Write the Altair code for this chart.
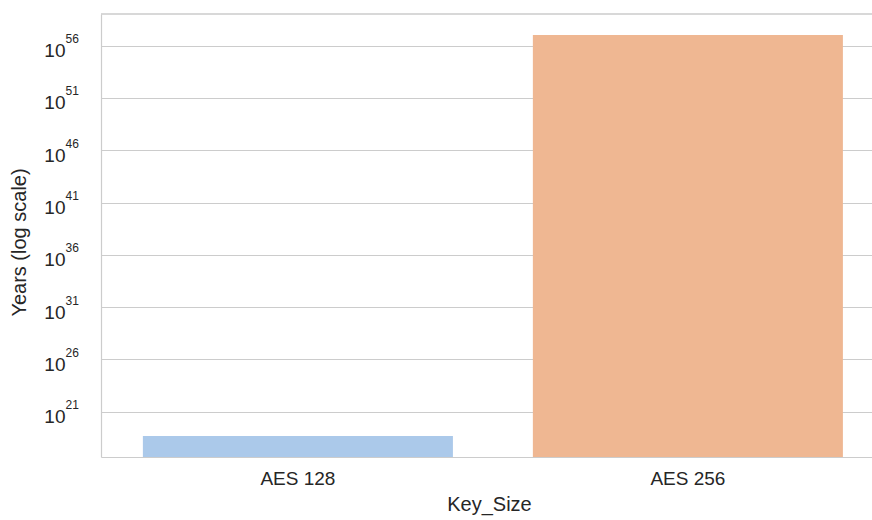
import altair as alt
import pandas as pd

# Data
key_sizes = ["AES 128", "AES 256"]
years = [4.6e18, 1.05e57]
bar_colors = ["#abc9ea", "#efb792"]

tick_exponents = [21, 26, 31, 36, 41, 46, 51, 56]
tick_values = [10.0 ** e for e in tick_exponents]
tick_base = "10"

y_domain = [10 ** 16.654, 10 ** 59.035]

df = pd.DataFrame({"Key_Size": key_sizes, "Years": years})

exp_expr = ""
for e in tick_exponents:
    exp_expr += f"round(log(datum.value)/LN10) == {e} ? '{e}' : "
exp_expr += "''"

TEXT = "#262626"
GRID = "#cccccc"
FONT = "Liberation Sans"

y_scale = alt.Scale(type="log", domain=y_domain, nice=False, zero=False, clamp=True)

bars = alt.Chart(df).mark_bar().encode(
    x=alt.X(
        "Key_Size:N",
        sort=key_sizes,
        scale=alt.Scale(paddingInner=0.205, paddingOuter=0.091, align=0.59),
        axis=alt.Axis(
            title="Key_Size",
            labelAngle=0,
            ticks=False,
            tickSize=0,
            labelPadding=27,
            labelBaseline="alphabetic",
            labelFontSize=19,
            labelColor=TEXT,
            labelFont=FONT,
            titleFontSize=20,
            titleFont=FONT,
            titleColor=TEXT,
            titleFontWeight="normal",
            titleX=388,
            titleY=53.5,
            titleBaseline="alphabetic",
            titleAnchor="start",
            titleAlign="center",
            domainColor=GRID,
            domainWidth=1.2,
            grid=False,
        ),
    ),
    y=alt.Y(
        "Years:Q",
        scale=y_scale,
        axis=alt.Axis(
            orient="left",
            title="Years (log scale)",
            values=tick_values,
            labelExpr=f"'{tick_base}'",
            ticks=False,
            tickSize=0,
            labelPadding=36,
            labelAlign="right",
            labelBaseline="alphabetic",
            labelOffset=11,
            labelFontSize=19,
            labelColor=TEXT,
            labelFont=FONT,
            titleFontSize=20,
            titleFont=FONT,
            titleColor=TEXT,
            titleFontWeight="normal",
            titleX=-82,
            titleY=228,
            titleBaseline="middle",
            titleAlign="center",
            titleAngle=-90,
            domainColor=GRID,
            domainWidth=1.2,
            grid=True,
            gridColor=GRID,
            gridWidth=1.2,
        ),
    ),
    color=alt.Color("Key_Size:N", scale=alt.Scale(domain=key_sizes, range=bar_colors), legend=None),
)

exponents = alt.Chart(df).mark_bar(opacity=0).encode(
    y=alt.Y(
        "Years:Q",
        scale=y_scale,
        axis=alt.Axis(
            orient="left",
            title=None,
            values=tick_values,
            labelExpr=exp_expr,
            ticks=False,
            tickSize=0,
            domain=False,
            grid=False,
            labelPadding=36,
            labelAlign="left",
            labelBaseline="alphabetic",
            labelOffset=-3,
            labelFontSize=12,
            labelColor=TEXT,
            labelFont=FONT,
        ),
    ),
)

top_spine = alt.Chart(df).mark_rule(color=GRID, strokeWidth=1.2).encode(
    y=alt.value(0), x=alt.value(0), x2=alt.value(771)
)

chart = alt.layer(bars, exponents, top_spine).resolve_axis(y="independent").properties(
    width=771,
    height=443,
    autosize=alt.AutoSizeParams(type="none"),
    padding={"left": 101, "top": 14, "right": 0, "bottom": 63},
    background="white",
).configure_view(stroke=None)

chart.save("out.html", embed_options={"renderer": "svg", "actions": False})
